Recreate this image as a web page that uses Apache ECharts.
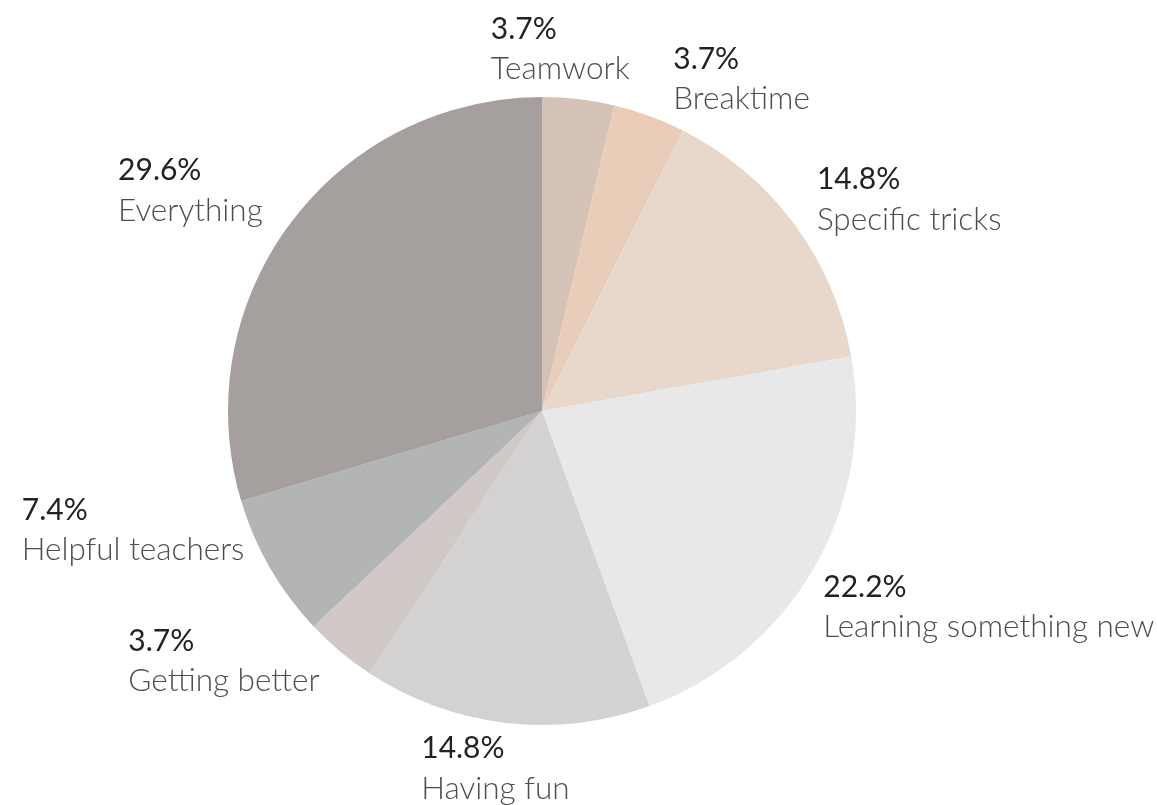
<!DOCTYPE html>
<html>
<head>
<meta charset="utf-8">
<script src="https://cdn.jsdelivr.net/npm/echarts@6/dist/echarts.min.js"></script>
<style>
  html, body { margin: 0; padding: 0; background: #ffffff; }
  #chart { width: 1157px; height: 805px; }
</style>
</head>
<body>
<div id="chart"></div>
<script>
// What pupils liked most about the sessions (number of answers)
const categories = [
  'Teamwork', 'Breaktime', 'Specific tricks', 'Learning something new',
  'Having fun', 'Getting better', 'Helpful teachers', 'Everything'
];
const answers = [1, 1, 4, 6, 4, 1, 2, 8];
const sliceColors = [
  '#d6c3b7', '#eacdb9', '#e8d8cb', '#e8e8e8',
  '#d3d2d1', '#d0c9c7', '#b3b5b4', '#a5a09d'
];

const CX = 542, CY = 411, R = 314, GAP = 20;
// per-label shift of the text block from its anchor on the ring outside the pie
const labelShift = [
  [-90, -70], [17, -58], [7, -52], [-8, -11],
  [-82, -14], [-199, -46], [-231, -88], [-156, -61]
];

const total = answers.reduce((a, b) => a + b, 0);
const midAngles = [];
let acc = 0;
answers.forEach(v => {
  midAngles.push((acc + v / 2) / total * Math.PI * 2);
  acc += v;
});

const chart = echarts.init(document.getElementById('chart'));
chart.setOption({
  animation: false,
  series: [{
    type: 'pie',
    center: [CX, CY],
    radius: R,
    startAngle: 90,
    clockwise: true,
    data: categories.map((name, i) => ({
      name, value: answers[i], itemStyle: { color: sliceColors[i] }
    })),
    label: {
      show: true,
      position: 'outside',
      overflow: 'none',
      formatter: p => '{p|' + (p.value / total * 100).toFixed(1) + '%}\n{n|' + p.name + '}',
      rich: {
        p: { fontFamily: 'Lato', fontWeight: 400, fontSize: 30, lineHeight: 40, color: '#222222', align: 'left' },
        n: { fontFamily: 'Lato', fontWeight: 300, fontSize: 31.5, lineHeight: 40, color: '#4d4d4d', align: 'left' }
      }
    },
    labelLine: { show: false },
    emphasis: { disabled: true },
    labelLayout: function (params) {
      const i = params.dataIndex;
      const a = midAngles[i];
      const ax = CX + Math.sin(a) * (R + GAP);
      const ay = CY - Math.cos(a) * (R + GAP);
      return {
        x: ax + labelShift[i][0],
        y: ay + labelShift[i][1],
        align: 'left',
        verticalAlign: 'top',
        hideOverlap: false
      };
    }
  }]
});
</script>
</body>
</html>
